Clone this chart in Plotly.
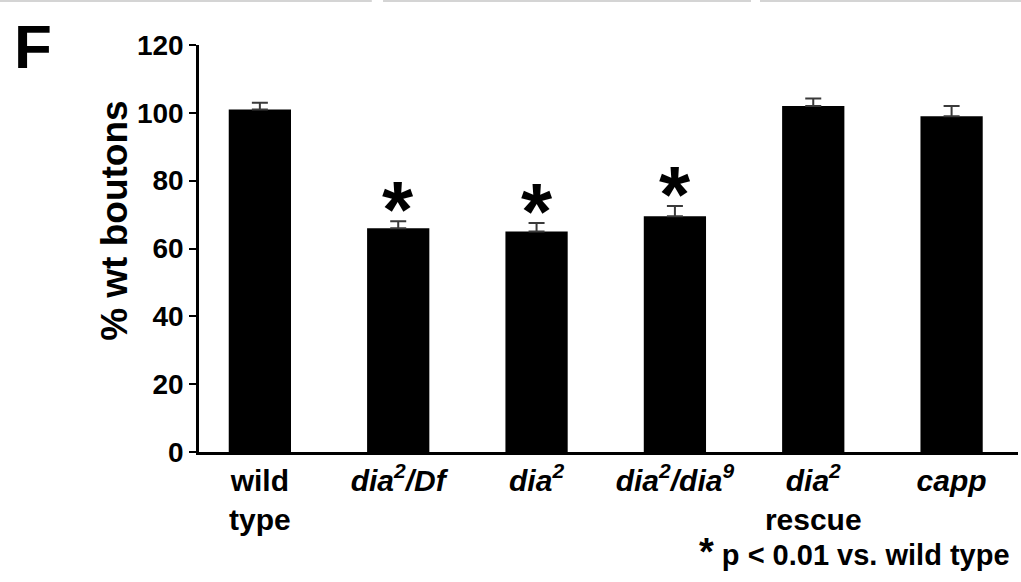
import plotly.graph_objects as go

# ---- data ----
categories = ["wild type", "dia2/Df", "dia2", "dia2/dia9", "dia2 rescue", "capp"]
tick_labels = [
    "wild<br>type",
    "<i>dia<sup>2</sup>/Df</i>",
    "<i>dia<sup>2</sup></i>",
    "<i>dia<sup>2</sup>/dia<sup>9</sup></i>",
    "<i>dia<sup>2</sup></i><br>rescue",
    "<i>capp</i>",
]
values = [101, 66, 65, 69.5, 102, 99]
errors = [2, 2, 2.5, 3, 2.2, 3]
errors_minus = [0, 0, 0, 0, 0, 0]
significant = [False, True, True, True, False, False]
y_ticks = [0, 20, 40, 60, 80, 100, 120]

FONT = "Liberation Sans, Arial, Helvetica, sans-serif"

fig = go.Figure()
fig.add_trace(go.Bar(
    x=categories, y=values, width=0.45,
    marker=dict(color="#000000", line=dict(width=0)),
    error_y=dict(type="data", symmetric=False, array=errors,
                 arrayminus=errors_minus, visible=True,
                 color="#3a3a3a", thickness=2, width=8),
    showlegend=False,
))

# significance asterisks
for cat, v, e, s in zip(categories, values, errors, significant):
    if s:
        fig.add_annotation(x=cat, y=v + e, xref="x", yref="y",
                           text="*", showarrow=False, yanchor="bottom",
                           yshift=-35,
                           font=dict(size=80, family=FONT, color="black", weight="bold"))

# y-axis title (as annotation so it can sit where the reference has it)
fig.add_annotation(x=-0.103, y=0.567, xref="paper", yref="paper",
                   xanchor="center", yanchor="middle", textangle=-90,
                   text="% wt boutons", showarrow=False,
                   font=dict(size=37, family=FONT, color="black", weight="bold"))

# panel letter
fig.add_annotation(x=-0.228, y=1.086, xref="paper", yref="paper",
                   xanchor="left", yanchor="top", text="F", showarrow=False,
                   font=dict(size=62, family=FONT, color="black", weight="bold"))

# footnote
fig.add_annotation(x=0.9927, y=-0.2457, xref="paper", yref="paper",
                   xanchor="right", yanchor="middle",
                   text="<span style='font-size:38px'>*</span> p &lt; 0.01 vs. wild type",
                   showarrow=False,
                   font=dict(size=29, family=FONT, color="black", weight="bold"))

# faint grey lines at top edge
for x0, x1 in [(-0.243, 0.211), (0.2247, 0.674), (0.685, 1.004)]:
    fig.add_shape(type="line", xref="paper", yref="paper",
                  x0=x0, x1=x1, y0=1.108, y1=1.108,
                  line=dict(color="#d4d4d4", width=2))

fig.update_layout(
    width=1021, height=582,
    margin=dict(l=199, r=3, t=45, b=130),
    plot_bgcolor="white", paper_bgcolor="white",
    font=dict(family=FONT, color="black", weight="bold"),
    bargap=0.55,
)
fig.update_xaxes(
    type="category", range=[-0.44, 5.48],
    tickvals=categories, ticktext=tick_labels,
    tickfont=dict(size=30, family=FONT, weight="bold"),
    showline=True, linecolor="black", linewidth=2.5,
    ticks="", showgrid=False, zeroline=False,
)
fig.update_yaxes(
    range=[0, 120], tickvals=y_ticks,
    tickfont=dict(size=28, family=FONT, weight="bold"),
    showline=True, linecolor="black", linewidth=2.5,
    ticks="outside", ticklen=7, tickwidth=2, tickcolor="black",
    showgrid=False, zeroline=False,
)

fig.write_html("out.html")
